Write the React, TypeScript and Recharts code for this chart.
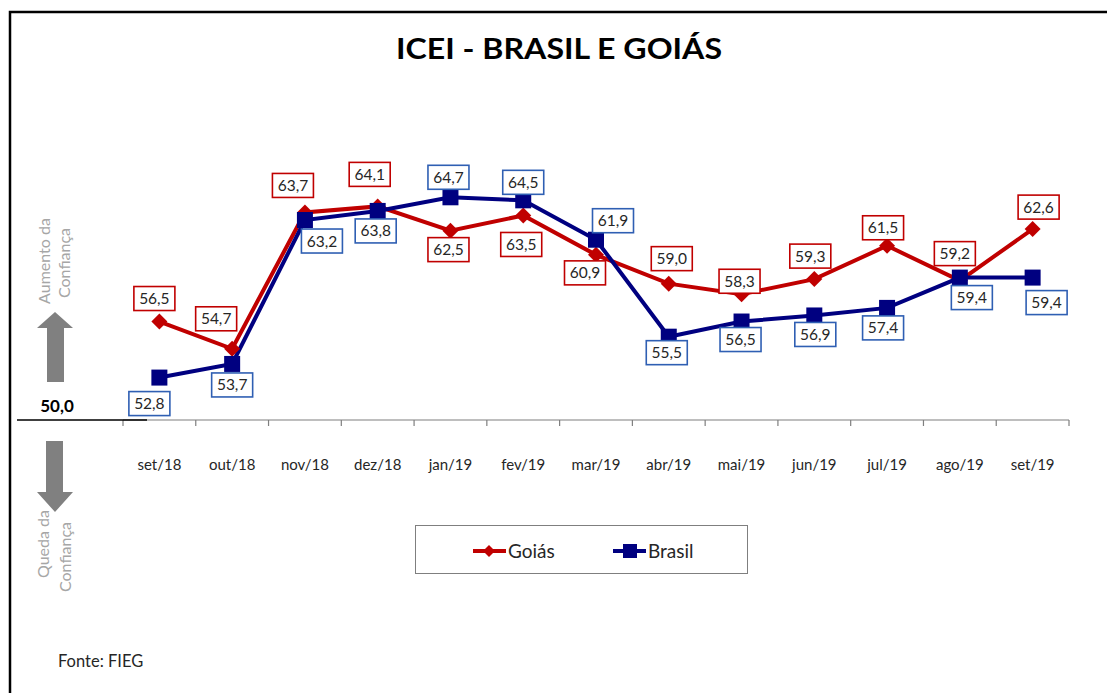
import React from 'react';
import { LineChart, Line, XAxis, YAxis, LabelList, Legend } from 'recharts';

const categories = ['set/18', 'out/18', 'nov/18', 'dez/18', 'jan/19', 'fev/19', 'mar/19', 'abr/19', 'mai/19', 'jun/19', 'jul/19', 'ago/19', 'set/19'];
const goiasValues = [56.5, 54.7, 63.7, 64.1, 62.5, 63.5, 60.9, 59.0, 58.3, 59.3, 61.5, 59.2, 62.6];
const brasilValues = [52.8, 53.7, 63.2, 63.8, 64.7, 64.5, 61.9, 55.5, 56.5, 56.9, 57.4, 59.4, 59.4];

// label box offsets relative to each point (layout only)
const goiasLabelOffset: [number, number][] = [
  [-5, -23], [-16, -30], [-12, -27], [-8, -32], [-2, 19], [-2, 29], [-11, 18],
  [3, -25], [-2, -13], [-4, -23], [-4, -18], [-5, -27], [6, -22],
];
const brasilLabelOffset: [number, number][] = [
  [-10, 26], [0, 21], [17, 21], [-2, 20], [-2, -20], [0, -18], [17, -19],
  [-2, 16], [-1, 18], [1, 19], [-4, 20], [12, 20], [14, 25],
];

const data = categories.map((c, i) => ({ month: c, goias: goiasValues[i], brasil: brasilValues[i] }));

const W = 1107;
const H = 693;
const M = { top: 117, right: 38, bottom: 233, left: 123 };
const XAXIS_H = 40;
const PLOT_W = W - M.left - M.right;
const STEP = PLOT_W / categories.length;
const FONT = 'Lato, "Open Sans", sans-serif';
const RED = '#c00000';
const NAVY = '#000080';
const LABEL_BLUE = '#2f5fb3';

const fmt = (v: number) => v.toFixed(1).replace('.', ',');

const Tick = (props: any) => {
  const { x, y, payload, index } = props;
  return (
    <g>
      <line x1={x - STEP / 2} x2={x - STEP / 2} y1={y} y2={y + 6} stroke="#7f7f7f" strokeWidth={1.2} />
      {index === categories.length - 1 && (
        <line x1={x + STEP / 2} x2={x + STEP / 2} y1={y} y2={y + 6} stroke="#7f7f7f" strokeWidth={1.2} />
      )}
      <text x={x} y={y + 50} textAnchor="middle" fontSize={15} fill="#262626" fontFamily={FONT}>
        {payload.value}
      </text>
    </g>
  );
};

const Diamond = (props: any) => {
  const { cx, cy } = props;
  if (cx == null || cy == null) return null;
  const r = 8;
  return <polygon points={`${cx},${cy - r} ${cx + r},${cy} ${cx},${cy + r} ${cx - r},${cy}`} fill={RED} />;
};

const Square = (props: any) => {
  const { cx, cy } = props;
  if (cx == null || cy == null) return null;
  const r = 8;
  return <rect x={cx - r} y={cy - r} width={2 * r} height={2 * r} fill={NAVY} />;
};

const makeLabel = (offsets: [number, number][], color: string) => (props: any) => {
  const { x, y, value, index } = props;
  if (x == null || y == null) return null;
  const [dx, dy] = offsets[index] || [0, -22];
  const cx = x + dx;
  const cy = y + dy;
  const w = 41;
  const h = 24;
  return (
    <g>
      <rect x={cx - w / 2} y={cy - h / 2} width={w} height={h} fill="#ffffff" stroke={color} strokeWidth={1.6} />
      <text x={cx} y={cy + 5.5} textAnchor="middle" fontSize={15.5} fill="#262626" fontFamily={FONT}>
        {fmt(value)}
      </text>
    </g>
  );
};

const LegendContent = () => (
  <div
    style={{
      width: '100%',
      height: '100%',
      boxSizing: 'border-box',
      border: '1.5px solid #7f7f7f',
      background: '#fff',
    }}
  >
    <svg width={333} height={49} style={{ display: 'block' }}>
      <line x1={57} x2={90} y1={25} y2={25} stroke={RED} strokeWidth={4} />
      <polygon points="73,19 79,25 73,31 67,25" fill={RED} />
      <text x={92} y={32} fontSize={19} fill="#262626" fontFamily={FONT}>Goiás</text>
      <line x1={197} x2={230} y1={25} y2={25} stroke={NAVY} strokeWidth={4} />
      <rect x={207} y={18} width={14} height={14} fill={NAVY} />
      <text x={232} y={32} fontSize={19} fill="#262626" fontFamily={FONT}>Brasil</text>
    </svg>
  </div>
);

export default function App() {
  return (
    <div style={{ position: 'absolute', left: 0, top: 0, width: W, height: H, background: '#fff', overflow: 'hidden' }}>
      <svg width={W} height={H} style={{ position: 'absolute', left: 0, top: 0 }}>
        <rect x={10} y={12} width={1300} height={900} fill="none" stroke="#000" strokeWidth={2.5} />
        <text x={559} y={59} textAnchor="middle" fontSize={28} fontWeight={700} fill="#000" fontFamily={FONT} textLength={326} lengthAdjust="spacingAndGlyphs">
          ICEI - BRASIL E GOIÁS
        </text>
        {/* up arrow */}
        <polygon points="55,312 73,328 64,328 64,382 47,382 47,328 37,328" fill="#808080" />
        {/* down arrow */}
        <polygon points="46,441 63,441 63,492 73,492 55,512 37,492 46,492" fill="#808080" />
        <text transform="translate(43,261) rotate(-90)" textAnchor="middle" dominantBaseline="central" fontSize={16} fill="#a6a6a6" fontFamily={FONT}>Aumento da</text>
        <text transform="translate(63,263) rotate(-90)" textAnchor="middle" dominantBaseline="central" fontSize={16} fill="#a6a6a6" fontFamily={FONT}>Confiança</text>
        <text transform="translate(42,578) rotate(-90)" textAnchor="start" dominantBaseline="central" fontSize={16} fill="#a6a6a6" fontFamily={FONT}>Queda da</text>
        <text transform="translate(64,592) rotate(-90)" textAnchor="start" dominantBaseline="central" fontSize={16} fill="#a6a6a6" fontFamily={FONT}>Confiança</text>
        <text x={57} y={412} textAnchor="middle" fontSize={17} fontWeight={700} fill="#000" fontFamily={FONT}>50,0</text>
        <text x={58} y={667} fontSize={16.5} fill="#262626" fontFamily={FONT}>Fonte: FIEG</text>
      </svg>
      <div style={{ position: 'absolute', left: 0, top: 0 }}>
        <LineChart width={W} height={H} data={data} margin={M}>
          <XAxis
            dataKey="month"
            height={XAXIS_H}
            padding={{ left: STEP / 2, right: STEP / 2 }}
            axisLine={{ stroke: '#7f7f7f', strokeWidth: 1.2 }}
            tickLine={false}
            tickSize={0}
            tickMargin={0}
            interval={0}
            tick={<Tick />}
          />
          <YAxis hide width={0} domain={[50, 70]} type="number" allowDataOverflow />
          <Legend
            layout="vertical"
            align="center"
            verticalAlign="middle"
            wrapperStyle={{ left: 415, top: 525, width: 333, height: 49 }}
            content={<LegendContent />}
          />
          <Line
            type="linear"
            dataKey="goias"
            name="Goiás"
            stroke={RED}
            strokeWidth={4}
            dot={<Diamond />}
            activeDot={false}
            isAnimationActive={false}
          >
            <LabelList dataKey="goias" content={makeLabel(goiasLabelOffset, RED)} />
          </Line>
          <Line
            type="linear"
            dataKey="brasil"
            name="Brasil"
            stroke={NAVY}
            strokeWidth={4}
            dot={<Square />}
            activeDot={false}
            isAnimationActive={false}
          >
            <LabelList dataKey="brasil" content={makeLabel(brasilLabelOffset, LABEL_BLUE)} />
          </Line>
        </LineChart>
      </div>
      <svg width={W} height={H} style={{ position: 'absolute', left: 0, top: 0, pointerEvents: 'none' }}>
        <line x1={17} x2={147} y1={420} y2={420} stroke="#000" strokeWidth={1.5} />
      </svg>
    </div>
  );
}
